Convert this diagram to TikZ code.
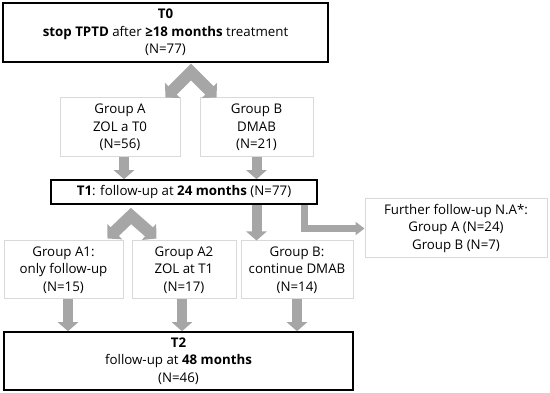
\documentclass[tikz,border=0pt]{standalone}
\usepackage{fontspec}
\setmainfont{Open Sans}
\usepackage{tikz}
\usetikzlibrary{calc, arrows.meta}

\definecolor{arrowgray}{RGB}{166,166,166}
\definecolor{boxgray}{RGB}{217,217,217}

\tikzset{
  mainbox/.style={draw=black, line width=1.6pt, fill=white, align=center,
    inner sep=0pt, font=\fontsize{13.3}{17.5}\selectfont},
  grpbox/.style={draw=boxgray, line width=1pt, fill=white, align=center,
    inner sep=0pt, font=\fontsize{13.3}{17.5}\selectfont},
  fatarrow/.style={draw=arrowgray, line width=10pt,
    -{Triangle[length=9pt,width=20pt]}},
  thinarrow/.style={draw=arrowgray, line width=7.5pt, line join=miter,
    -{Triangle[length=9pt,width=13pt]}},
  chevron/.style={draw=arrowgray, line width=12pt, line join=miter,
    {Triangle[length=10pt,width=21pt]}-{Triangle[length=10pt,width=21pt]}}
}

\begin{document}
\begin{tikzpicture}[x=1pt, y=-1pt]
          % --- 1. 畫布範圍 ---
          \useasboundingbox (0,0) rectangle (550,393);

          % --- 2. 主要時間點 T0, T1, T2 ---
          \node[mainbox, minimum width=325, minimum height=59] (t0) at (165.5,32.5)
            {\textbf{T0}\\ \textbf{stop TPTD} after \textbf{≥18 months} treatment\\ (N=77)};
          \node[mainbox, minimum width=266, minimum height=24] (t1) at (184,192)
            {\textbf{T1}: follow-up at \textbf{24 months} (N=77)};
          \node[mainbox, minimum width=349, minimum height=58] (t2) at (178.5,361)
            {\textbf{T2}\\ follow-up at \textbf{48 months}\\ (N=46)};

          % --- 3. 第一次分組 A, B ---
          \node[grpbox, minimum width=120, minimum height=59] (gA) at (120,127.5)
            {Group A\\ ZOL a T0\\ (N=56)};
          \node[grpbox, minimum width=113, minimum height=59] (gB) at (256.5,127.5)
            {Group B\\ DMAB\\ (N=21)};

          % --- 4. 第二次分組 A1, A2, B 與失訪 ---
          \node[grpbox, minimum width=119, minimum height=58] (gA1) at (63.5,270)
            {Group A1:\\ only follow-up\\ (N=15)};
          \node[grpbox, minimum width=104, minimum height=58] (gA2) at (184,270)
            {Group A2\\ ZOL at T1\\ (N=17)};
          \node[grpbox, minimum width=112, minimum height=58] (gB2) at (297,270)
            {Group B:\\ continue DMAB\\ (N=14)};
          \node[grpbox, minimum width=182, minimum height=59] (fu) at (456,228.5)
            {Further follow-up N.A*:\\ Group A (N=24)\\ Group B (N=7)};

          % --- 5. 分叉箭頭 ---
          \coordinate (s0) at (191,72);
          \coordinate (s1) at (131,216);
          \draw[chevron] ([xshift=-15pt]gA.north east) -- (s0) -- ([xshift=17pt]gB.north west);
          \draw[chevron] ([shift={(-16pt,2pt)}]gA1.north east) -- (s1) -- ([shift={(25pt,2pt)}]gA2.north west);

          % --- 6. 向下箭頭 ---
          \draw[fatarrow] ([xshift=4pt]gA.south) -- ([xshift=4pt]gA.south |- t1.north);
          \draw[fatarrow] (gB.south) -- (gB.south |- t1.north);
          \draw[fatarrow] (t1.south -| gB.south) -- (gB.south |- gB2.north);
          \draw[thinarrow] ([xshift=120.5pt]t1.south) |- (fu.west);
          \draw[fatarrow] ([xshift=4.5pt]gA1.south) -- ([xshift=4.5pt]gA1.south |- t2.north);
          \draw[fatarrow] ([xshift=-2pt]gA2.south) -- ([xshift=-2pt]gA2.south |- t2.north);
          \draw[fatarrow] (gB2.south) -- (gB2.south |- t2.north);

      \end{tikzpicture}
\end{document}
